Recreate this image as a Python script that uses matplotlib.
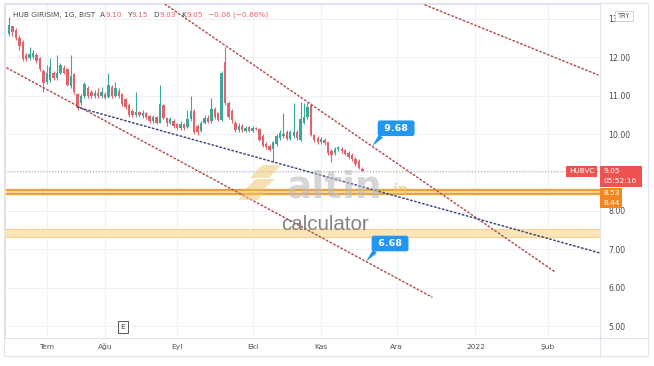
import numpy as np
import pandas as pd
import matplotlib
matplotlib.use("Agg")
import matplotlib.pyplot as plt
from matplotlib.patches import Rectangle, Polygon

plt.rcParams["font.family"] = ["DejaVu Sans"]

W, H, DPI = 654, 366, 100

# ---- daily candles, HUB GIRISIM (BIST), one per session ----
opens = [12.60, 12.80, 12.70, 12.50, 12.40, 12.05, 11.97, 12.00, 12.05, 11.98,
         11.65, 11.35, 11.40, 11.60, 11.45, 11.60, 11.72, 11.68, 11.25, 11.55,
         11.05, 10.80, 11.00, 11.20, 11.10, 11.00, 11.08, 11.00, 11.05, 10.97,
         11.22, 11.00, 11.12, 11.05, 10.90, 10.75, 10.60, 10.50, 10.57, 10.48,
         10.55, 10.48, 10.35, 10.45, 10.30, 10.75, 10.42, 10.30, 10.35, 10.25,
         10.15, 10.25, 10.18, 10.40, 10.60, 10.20, 10.08, 10.30, 10.42, 10.35,
         10.65, 10.55, 10.36, 11.88, 10.80, 10.60, 10.30, 10.10, 10.20, 10.08,
         10.18, 10.08, 10.15, 10.12, 9.95, 9.75, 9.70, 9.60, 9.75, 9.90,
         9.95, 10.05, 9.88, 9.95, 10.05, 9.85, 10.30, 10.45, 10.75, 9.97,
         9.90, 9.78, 9.85, 9.78, 9.55, 9.50, 9.60, 9.62, 9.58, 9.50,
         9.45, 9.35, 9.30, 9.10]
highs = [13.05, 12.82, 12.75, 12.58, 12.45, 12.10, 12.27, 12.20, 12.10, 12.00,
         11.70, 11.80, 11.98, 11.65, 12.05, 11.85, 11.80, 11.72, 12.05, 11.60,
         11.08, 11.05, 11.35, 11.25, 11.15, 11.15, 11.20, 11.22, 11.10, 11.60,
         11.27, 11.35, 11.20, 11.08, 10.95, 10.80, 10.65, 11.10, 10.60, 10.62,
         10.58, 10.50, 10.50, 10.48, 11.27, 10.78, 10.45, 10.45, 10.40, 10.30,
         10.35, 10.30, 10.62, 11.00, 10.65, 10.25, 10.35, 10.50, 10.50, 10.94,
         10.70, 10.57, 11.65, 12.27, 10.85, 10.65, 10.35, 10.30, 10.25, 10.22,
         10.22, 10.20, 10.18, 10.15, 10.00, 9.80, 9.75, 9.82, 10.00, 10.10,
         10.55, 10.10, 10.10, 10.80, 10.10, 10.83, 10.80, 10.80, 10.80, 10.00,
         9.95, 9.92, 9.90, 9.80, 9.60, 9.66, 9.70, 9.66, 9.60, 9.55,
         9.50, 9.40, 9.35, 9.15]
lows = [12.55, 12.55, 12.45, 12.20, 11.90, 11.90, 11.92, 11.95, 11.85, 11.65,
        11.10, 11.30, 11.35, 11.40, 11.40, 11.55, 11.55, 11.25, 11.20, 11.05,
        10.62, 10.75, 10.95, 10.95, 10.95, 10.95, 10.95, 10.95, 10.90, 10.95,
        10.95, 10.97, 10.95, 10.74, 10.65, 10.45, 10.45, 10.45, 10.45, 10.42,
        10.40, 10.30, 10.30, 10.25, 10.28, 10.38, 10.22, 10.25, 10.15, 10.10,
        10.10, 10.10, 10.15, 10.35, 10.00, 9.97, 10.05, 10.25, 10.28, 10.30,
        10.40, 10.33, 10.33, 10.75, 10.40, 10.30, 10.05, 10.05, 10.05, 10.05,
        10.05, 10.05, 10.10, 9.82, 9.65, 9.60, 9.55, 9.27, 9.70, 9.85,
        9.90, 9.85, 9.85, 9.90, 9.85, 9.83, 10.25, 10.40, 9.95, 9.80,
        9.75, 9.75, 9.72, 9.45, 9.27, 9.45, 9.55, 9.50, 9.45, 9.36,
        9.30, 9.18, 9.08, 9.03]
closes = [12.85, 12.65, 12.50, 12.30, 11.95, 11.95, 12.08, 12.10, 11.90, 11.68,
          11.33, 11.60, 11.75, 11.45, 11.60, 11.80, 11.60, 11.28, 11.50, 11.10,
          10.72, 11.00, 11.30, 11.00, 10.98, 11.08, 11.00, 11.10, 10.95, 11.27,
          11.00, 11.20, 10.98, 10.78, 10.70, 10.50, 10.50, 10.58, 10.50, 10.55,
          10.45, 10.35, 10.45, 10.30, 10.78, 10.42, 10.30, 10.38, 10.20, 10.15,
          10.25, 10.15, 10.40, 10.60, 10.05, 10.05, 10.30, 10.42, 10.32, 10.65,
          10.45, 10.36, 11.60, 10.80, 10.45, 10.36, 10.10, 10.20, 10.10, 10.15,
          10.08, 10.15, 10.12, 9.85, 9.70, 9.65, 9.58, 9.78, 9.95, 10.03,
          10.00, 9.88, 10.05, 10.05, 9.90, 10.40, 10.45, 10.70, 9.97, 9.85,
          9.80, 9.88, 9.76, 9.50, 9.45, 9.62, 9.66, 9.55, 9.48, 9.40,
          9.35, 9.22, 9.11, 9.05]

# ---- session calendar (BIST closed on these days) ----
holidays = ["2021-07-15", "2021-07-20", "2021-07-21", "2021-07-22",
            "2021-07-23", "2021-08-30", "2021-10-29"]
first_session = "2021-06-16"
last_calendar_day = "2022-03-31"
month_labels = ["Tem", "Ağu", "Eyl", "Eki", "Kas", "Ara", "2022", "Şub"]
price_ticks = [5, 6, 7, 8, 9, 10, 11, 12, 13]

# ---- drawings: (session index, price) endpoints ----
channel_top = [(45.5, 13.38), (159.2, 6.41)]
channel_bottom = [(-0.6, 11.72), (123.3, 5.755)]
long_trend = [(19.8, 10.70), (176.0, 6.81)]
outer_top = [(121.3, 13.36), (171.7, 11.54)]

resistance_band = (8.44, 8.53)
support_zone = (7.32, 7.52)
top_callout = 9.68
bottom_callout = 6.68
symbol = "HUBVC"
countdown = "05:52:16"

# ---------------------------------------------------------------------------
sessions = pd.bdate_range(first_session, last_calendar_day, freq="C",
                          holidays=holidays)
months = sessions.to_period("M")
month_idx = [i for i in range(1, len(sessions)) if months[i] != months[i - 1]]
month_idx = month_idx[:len(month_labels)]

fig = plt.figure(figsize=(W / DPI, H / DPI), dpi=DPI)
fig.patch.set_facecolor("white")

px_left, px_right, px_top, px_bottom = 5, 600, 4, 338
ax = fig.add_axes([px_left / W, 1 - px_bottom / H,
                   (px_right - px_left) / W, (px_bottom - px_top) / H])
ax.set_xlim(-1.17, 172.3)
ax.set_ylim(4.69, 13.385)

grid_c = "#eef1f6"
for p in price_ticks:
    ax.axhline(p, color=grid_c, lw=0.8, zorder=0)
for m in month_idx:
    ax.axvline(m, color=grid_c, lw=0.8, zorder=0)

UP, DOWN = "#3aa99b", "#e5626a"
n = len(closes)
xs = np.arange(n)
o = np.array(opens); h = np.array(highs); l = np.array(lows); c = np.array(closes)
cols = np.where(c >= o, UP, DOWN)
ax.vlines(xs, l, h, colors=cols, lw=0.8, zorder=3)
body = np.maximum(np.abs(c - o), 0.02)
ax.bar(xs, body, bottom=np.minimum(o, c), width=0.7, color=cols,
       linewidth=0, zorder=4)

# horizontal levels
ax.axhspan(*resistance_band, color="#f8dca8", lw=0, zorder=1)
for lv in resistance_band:
    ax.axhline(lv, color="#e9a23b", lw=1.6, zorder=2)
ax.axhspan(*support_zone, facecolor="#fce5b8", edgecolor="#f6d08e", lw=0.8,
           zorder=1)
ax.axhline(closes[-1], color="#9a9da6", lw=0.7, ls=(0, (1, 2)), zorder=2)

# trend lines
dots = (0, (1, 1.7))
for seg, colr in [(channel_top, "#b4514f"), (channel_bottom, "#b4514f"),
                  (outer_top, "#b4514f"), (long_trend, "#3d4a78")]:
    (x0, y0), (x1, y1) = seg
    ax.plot([x0, x1], [y0, y1], color=colr, lw=1.1, ls=dots, zorder=5,
            dash_capstyle="round")


def x_at_price(seg, price):
    (x0, y0), (x1, y1) = seg
    return x0 + (price - y0) * (x1 - x0) / (y1 - y0)


for seg, val in [(channel_top, top_callout), (channel_bottom, bottom_callout)]:
    ax.annotate(f" {val:.2f} ", xy=(x_at_price(seg, val), val),
                xytext=(17.3, 13), textcoords="offset points",
                ha="center", va="center", fontsize=6.8, fontweight="bold",
                color="white", zorder=8,
                bbox=dict(boxstyle="round,pad=0.35,rounding_size=0.25",
                          fc="#2196f3", ec="none"),
                arrowprops=dict(arrowstyle="wedge,tail_width=0.55",
                                fc="#2196f3", ec="none", relpos=(0.12, 0.1),
                                shrinkA=0, shrinkB=0))

# axes styling
for s in ax.spines.values():
    s.set_color("#e0e3eb")
    s.set_linewidth(0.8)
ax.yaxis.tick_right()
ax.set_yticks(price_ticks)
# the 9.00 label sits under the live-price tag
ax.set_yticklabels(["" if p == 9 else f"{p:.2f}" for p in price_ticks])
ax.tick_params(axis="y", length=0, pad=5.8, labelsize=5.6, labelcolor="#4a4a4a")
ax.set_xticks(month_idx)
ax.set_xticklabels(month_labels)
ax.tick_params(axis="x", length=0, pad=7.6, labelsize=5.4, labelcolor="#555555")
for lab in ax.get_yticklabels():
    lab.set_horizontalalignment("left")
for lab in ax.get_xticklabels():
    lab.set_verticalalignment("baseline")

# ---- overlay in pixel space for panes, tags, legend and watermark ----
ov = fig.add_axes([0, 0, 1, 1], zorder=5)
ov.set_xlim(0, W)
ov.set_ylim(H, 0)
ov.axis("off")
ov.patch.set_alpha(0)


def py(price):
    return H - ax.transData.transform((0, price))[1]


border = "#e0e3eb"
ov.add_patch(Rectangle((4, 3), 644, 353, fill=False, ec=border, lw=0.8))
ov.plot([600, 600], [338, 356], color=border, lw=0.8)
ov.plot([600, 648], [338, 338], color=border, lw=0.8)

# watermark
gold = "#f1c46a"
for pts in [[(250, 178), (262, 165), (281, 165), (269, 178)],
            [(244, 190), (256, 179), (275, 179), (263, 190)],
            [(238, 200), (246, 192), (266, 192), (258, 200)]]:
    ov.add_patch(Polygon(pts, closed=True, fc=gold, ec="none", alpha=0.5))
ov.text(286, 197, "altin", fontsize=27, fontweight="bold", color="#bcbcbc",
        alpha=0.6, va="baseline", ha="left")
ov.text(389, 194, ".in", fontsize=10, fontweight="bold", color=gold,
        alpha=0.7, va="baseline", ha="left")
ov.text(281, 230, "calculator", fontsize=14.8, family="Liberation Sans",
        color="#767676", alpha=0.9, va="baseline", ha="left")

# legend line, laid out left to right
renderer = fig.canvas.get_renderer()
chg = closes[-1] - closes[-2]
pct = chg / closes[-2] * 100
gray_txt, red_txt = "#4a4a4a", "#e5626a"
parts = [("HUB GIRISIM, 1G, BIST", gray_txt, 5),
         ("A", gray_txt, 0.3), (f"{opens[-1]:.2f}", red_txt, 5),
         ("Y", gray_txt, 0.3), (f"{highs[-1]:.2f}", red_txt, 5),
         ("D", gray_txt, 0.3), (f"{lows[-1]:.2f}", red_txt, 5),
         ("K", gray_txt, 0.3), (f"{closes[-1]:.2f}", red_txt, 5),
         (f"\u2212{abs(chg):.2f} (\u2212{abs(pct):.2f}%)", red_txt, 0)]
hx, hy = 13, 15
for txt, colr, gap in parts:
    t = ov.text(hx, hy, txt, fontsize=5.3, color=colr, va="center", ha="left")
    hx += t.get_window_extent(renderer).width + gap

# price-scale tags
y_last = py(closes[-1])
ov.add_patch(Rectangle((566, y_last - 4.5), 31, 10.5, fc="#ef5350", ec="none"))
ov.text(581.5, y_last + 0.7, symbol, fontsize=5.2, color="white",
        ha="center", va="center")
ov.add_patch(Rectangle((600, y_last - 4.5), 42, 20.5, fc="#ef5350", ec="none"))
ov.text(603, y_last + 0.5, f"{closes[-1]:.2f}", fontsize=5.4, color="white",
        va="center")
ov.text(603, y_last + 10, countdown, fontsize=5.4, color="white", va="center")

orange = "#f5861f"
tag_top = y_last + 17.5
ov.add_patch(Rectangle((600, tag_top), 22, 20, fc=orange, ec="none"))
ov.text(603, tag_top + 5, f"{resistance_band[1]:.2f}", fontsize=5.4,
        color="white", va="center")
ov.text(603, tag_top + 15, f"{resistance_band[0]:.2f}", fontsize=5.4,
        color="white", va="center")

# currency box
ov.add_patch(Rectangle((615, 11), 18, 10, fc="white", ec="#c9ccd3", lw=0.6))
ov.text(624, 16.2, "TRY", fontsize=4.8, color="#555555", ha="center",
        va="center")

# earnings marker
ov.add_patch(Rectangle((118, 321), 10, 12, fc="white", ec="#555555", lw=0.7))
ov.text(123, 327.3, "E", fontsize=5.4, color="#444444", ha="center",
        va="center")

fig.savefig("out.png", dpi=DPI, facecolor="white")
